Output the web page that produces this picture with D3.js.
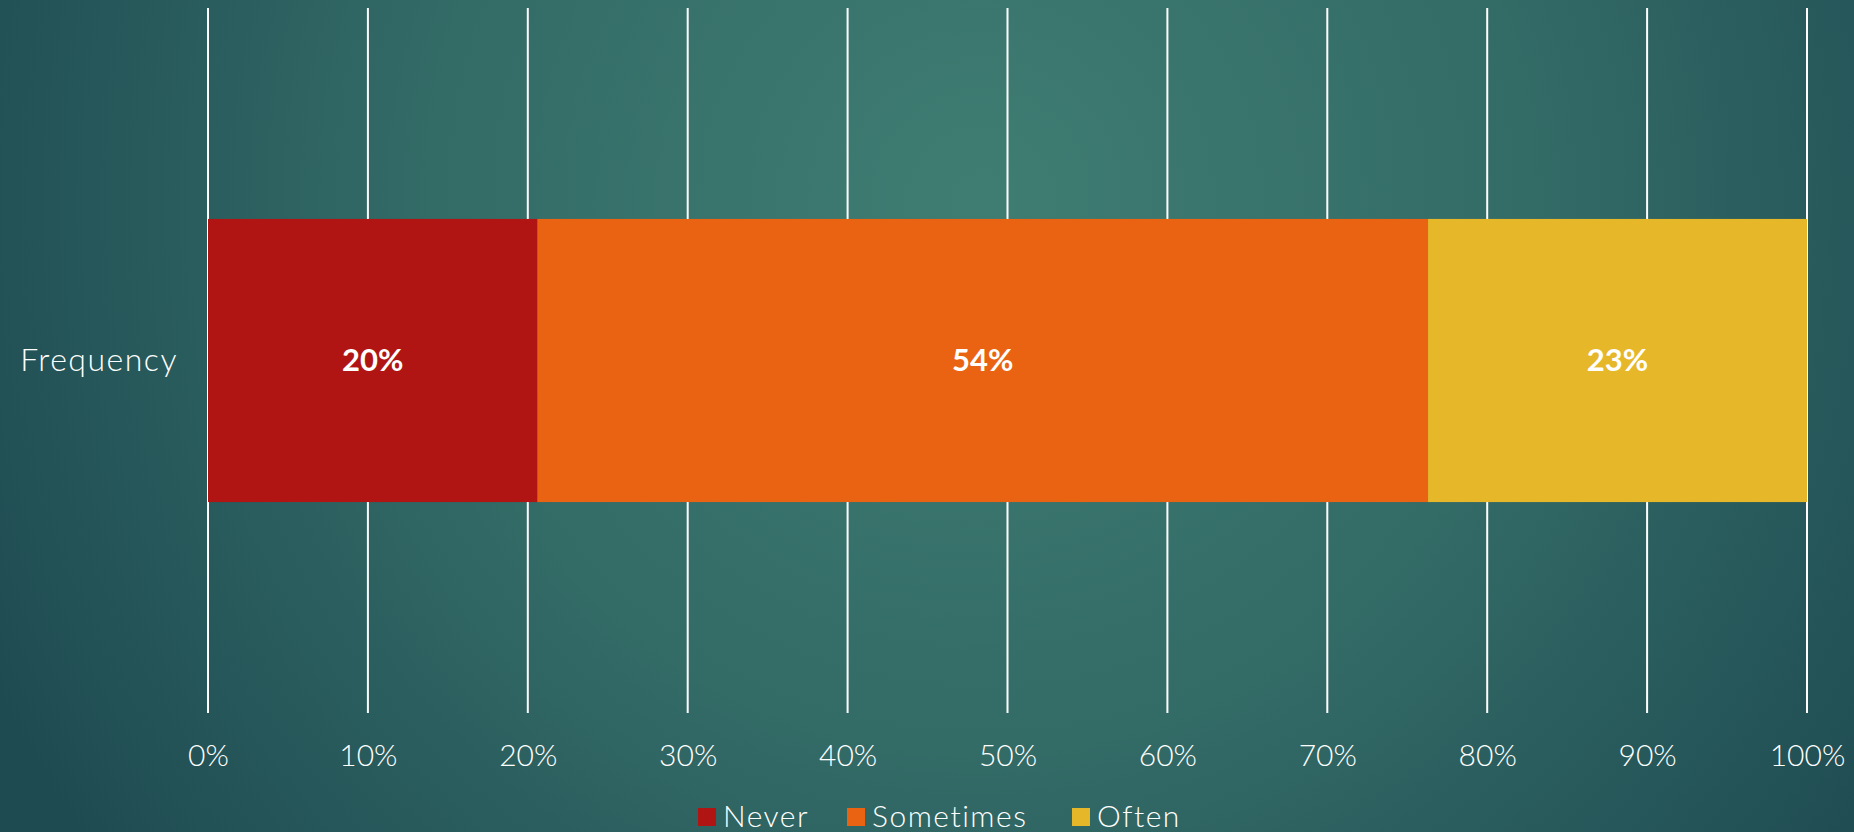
<!DOCTYPE html>
<html>
<head>
<meta charset="utf-8">
<script src="https://cdn.jsdelivr.net/npm/d3@7"></script>
<style>
  html, body { margin: 0; padding: 0; overflow: hidden; }
  body { width: 1854px; height: 832px; }
  text { font-family: "Lato", "Open Sans", sans-serif; fill: #ffffff; }
</style>
</head>
<body>
<div id="chart"></div>
<script>
// Chart size
const width = 1854;
const height = 832;
const margin = {left: 208, right: 47, top: 8, bottom: 119};

// Data
const categories = ["Frequency"];
const seriesNames = ["Never", "Sometimes", "Often"];
const seriesValues = [20.6, 55.7, 23.7];
const valueLabels = ["20%", "54%", "23%"];
const seriesColors = ["#b01513", "#ea6312", "#e6b729"];
const tickValues = [0, 10, 20, 30, 40, 50, 60, 70, 80, 90, 100];

const svg = d3.select("#chart")
  .append("svg")
  .attr("width", width)
  .attr("height", height);

// Background: teal radial gradient
const defs = svg.append("defs");
const grad = defs.append("radialGradient")
  .attr("id", "bg")
  .attr("gradientUnits", "userSpaceOnUse")
  .attr("cx", 980).attr("cy", 200).attr("r", 1100);
grad.append("stop").attr("offset", "0%").attr("stop-color", "#3f7d72");
grad.append("stop").attr("offset", "50%").attr("stop-color", "#336b67");
grad.append("stop").attr("offset", "100%").attr("stop-color", "#1e4b52");

svg.append("rect")
  .attr("width", width)
  .attr("height", height)
  .attr("fill", "url(#bg)");

// Scales
const xScale = d3.scaleLinear()
  .domain([0, 100])
  .range([margin.left, width - margin.right]);

const yScale = d3.scaleBand()
  .domain(categories)
  .range([margin.top, height - margin.bottom])
  .paddingInner(0)
  .paddingOuter(0.745);

// Gridlines
svg.append("g")
  .selectAll("line")
  .data(tickValues)
  .enter()
  .append("line")
  .attr("x1", d => xScale(d))
  .attr("x2", d => xScale(d))
  .attr("y1", margin.top)
  .attr("y2", height - margin.bottom)
  .attr("stroke", "#ffffff")
  .attr("stroke-width", 2);

// X axis labels
const xAxis = svg.append("g")
  .attr("transform", `translate(0,${height - margin.bottom})`)
  .call(d3.axisBottom(xScale)
    .tickValues(tickValues)
    .tickFormat(d => d + "%")
    .tickSize(0)
    .tickPadding(32));
xAxis.select(".domain").remove();
xAxis.selectAll("text")
  .attr("font-size", "30px")
  .attr("font-family", "Lato, sans-serif")
  .attr("font-weight", 300)
  .attr("fill", "#ffffff");

// Y axis label
const yAxis = svg.append("g")
  .attr("transform", `translate(${margin.left},0)`)
  .call(d3.axisLeft(yScale).tickSize(0).tickPadding(30));
yAxis.select(".domain").remove();
yAxis.selectAll("text")
  .attr("font-size", "32px")
  .attr("font-family", "Lato, sans-serif")
  .attr("font-weight", 300)
  .attr("letter-spacing", "1.5px")
  .attr("fill", "#ffffff");

// Stacked segments
const starts = d3.cumsum([0].concat(seriesValues.slice(0, -1)));
const segments = seriesNames.map((name, i) => ({
  name: name,
  start: starts[i],
  value: seriesValues[i],
  label: valueLabels[i],
  color: seriesColors[i]
}));

const barY = yScale(categories[0]);
const barH = yScale.bandwidth();

svg.selectAll(".bar")
  .data(segments)
  .enter()
  .append("rect")
  .attr("class", "bar")
  .attr("x", d => xScale(d.start))
  .attr("y", barY)
  .attr("width", d => xScale(d.start + d.value) - xScale(d.start))
  .attr("height", barH)
  .attr("fill", d => d.color);

svg.selectAll(".val")
  .data(segments)
  .enter()
  .append("text")
  .attr("class", "val")
  .attr("x", d => xScale(d.start + d.value / 2))
  .attr("y", barY + barH / 2)
  .attr("dy", "0.35em")
  .attr("text-anchor", "middle")
  .attr("font-size", "31px")
  .attr("font-weight", "bold")
  .text(d => d.label);

// Legend
const legendX = [698, 847, 1072];
const legend = svg.append("g");
const item = legend.selectAll("g")
  .data(segments)
  .enter()
  .append("g")
  .attr("transform", (d, i) => `translate(${legendX[i]},808)`);
item.append("rect")
  .attr("width", 18)
  .attr("height", 18)
  .attr("fill", d => d.color);
item.append("text")
  .attr("x", 25)
  .attr("y", 19)
  .attr("font-size", "30px")
  .attr("font-weight", 300)
  .attr("letter-spacing", "1.5px")
  .text(d => d.name);
</script>
</body>
</html>
